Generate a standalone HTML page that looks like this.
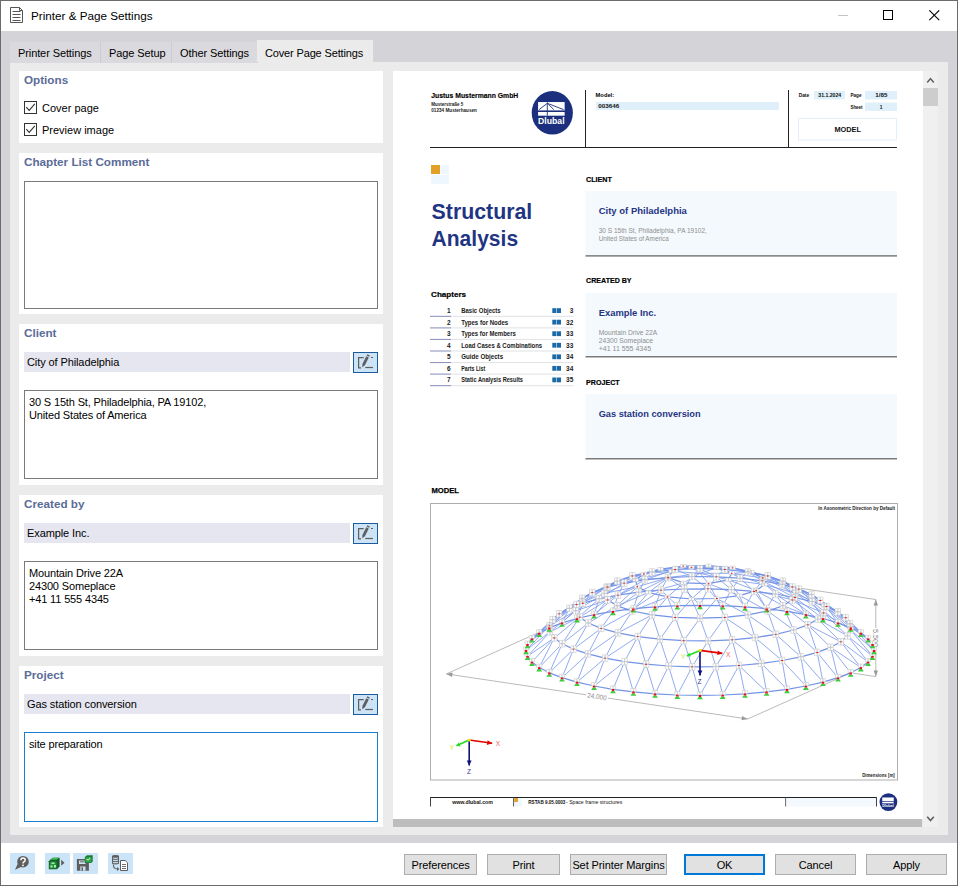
<!DOCTYPE html><html><head><meta charset="utf-8"><style>
*{box-sizing:border-box;margin:0;padding:0}
html,body{width:958px;height:886px;overflow:hidden;background:#fff}
body{position:relative;font-family:"Liberation Sans",sans-serif;font-size:11px;color:#000}
.a{position:absolute}
.t{position:absolute;white-space:nowrap;line-height:1}
#win{position:absolute;left:0;top:0;width:958px;height:886px;border:1px solid #6b6b6b;border-right-color:#6b6b6b}
#grey{left:1px;top:31px;width:956px;height:812px;background:#d3d3d8}
.tab{position:absolute;top:42px;height:21px;background:#dadade;border-right:1px solid #cbcbd0}
.tab span{position:absolute;top:6px;left:8px;font-size:11px;white-space:nowrap;line-height:1;letter-spacing:-0.1px}
#panel{left:10px;top:62px;width:938px;height:773px;background:#ebebeb}
.box{position:absolute;left:19px;width:364px;background:#fff}
.hd{position:absolute;left:5px;top:2.5px;font-weight:bold;font-size:11.7px;color:#5b6c98;white-space:nowrap;line-height:1}
.fld{position:absolute;left:5px;top:28px;width:326px;height:20px;background:#e6e6f0}
.fld span{position:absolute;left:3px;top:5px;font-size:11px;line-height:1;white-space:nowrap;letter-spacing:-0.1px}
.eb{position:absolute;left:334px;top:28px;width:25px;height:21px;border:1px solid #1c5c9e;background:#cde3f6}
.ta{position:absolute;left:5px;top:66px;width:354px;height:89px;border:1px solid #7a7a7a;background:#fff}
.ta div{position:absolute;left:4px;top:5px;font-size:11px;line-height:13px;white-space:nowrap;letter-spacing:-0.15px}
.cb{position:absolute;left:5px;width:13px;height:13px;border:1px solid #333;background:#fff}
.btn{position:absolute;top:854px;height:21px;background:#e1e1e1;border:1px solid #adadad;font-size:11px;text-align:center;line-height:19px;padding-top:1px;white-space:nowrap;letter-spacing:-0.1px}
.ib{position:absolute;top:853px;width:25px;height:21px;background:#cce4f7}
</style></head><body>
<div id="win"></div>
<svg class="a" style="left:9px;top:6px" width="16" height="18" viewBox="0 0 16 18">
<path d="M1.5 1.5 H10.5 L13.5 4.5 V16.5 H1.5 Z" fill="#fff" stroke="#555" stroke-width="1"/>
<path d="M10.5 1.5 V4.5 H13.5" fill="none" stroke="#555" stroke-width="1"/>
<path d="M3.5 5.5H11.5M3.5 8.5H11.5M3.5 11.5H11.5M3.5 14.5H11.5" stroke="#555" stroke-width="1"/></svg>
<div class="t" style="left:31px;top:10px;font-size:11.7px">Printer &amp; Page Settings</div>
<div class="a" style="left:838px;top:15px;width:10px;height:1px;background:#c4c4c4"></div>
<div class="a" style="left:883px;top:10px;width:10px;height:10px;border:1px solid #000"></div>
<svg class="a" style="left:929px;top:10px" width="11" height="11" viewBox="0 0 11 11"><path d="M0.3 0.3L10.2 10.2M10.2 0.3L0.3 10.2" stroke="#000" stroke-width="1.1"/></svg>
<div class="a" id="grey"></div>
<div class="a" id="panel"></div>
<div class="tab" style="left:10px;width:91px"><span>Printer Settings</span></div>
<div class="tab" style="left:101px;width:71px"><span>Page Setup</span></div>
<div class="tab" style="left:172px;width:86px"><span>Other Settings</span></div>
<div class="a" style="left:257px;top:40px;width:116px;height:22px;background:#ebebeb"><span class="t" style="left:8px;top:8px;letter-spacing:-0.15px">Cover Page Settings</span></div>
<div class="box" style="top:71px;height:72px"><div class="hd">Options</div>
<div class="cb" style="top:30px"><svg width="11" height="11" viewBox="0 0 11 11" style="position:absolute;left:0;top:0"><path d="M1.3 5.2L4.2 8.4L9.8 1.8" fill="none" stroke="#333" stroke-width="1.1"/></svg></div><div class="cb" style="top:52px"><svg width="11" height="11" viewBox="0 0 11 11" style="position:absolute;left:0;top:0"><path d="M1.3 5.2L4.2 8.4L9.8 1.8" fill="none" stroke="#333" stroke-width="1.1"/></svg></div>
<div class="t" style="left:23px;top:32px">Cover page</div>
<div class="t" style="left:23px;top:54px">Preview image</div></div>
<div class="box" style="top:153px;height:161px"><div class="hd">Chapter List Comment</div>
<div class="ta" style="top:28px;height:128px"></div></div>
<div class="box" style="top:324px;height:161px"><div class="hd">Client</div>
<div class="fld"><span>City of Philadelphia</span></div><div class="eb"><svg width="23" height="19" viewBox="0 0 23 19" style="position:absolute;left:0;top:0">
<path d="M9.7 4.6H4.6V14.8H7" fill="none" stroke="#5f5f5f" stroke-width="1.2"/>
<path d="M11.3 14.5H19" stroke="#5f5f5f" stroke-width="1.2"/>
<path d="M17 4.5H19" stroke="#5f5f5f" stroke-width="1.2"/>
<path d="M15.85 2.43 L13.35 1.17 L12.63 2.6 L15.13 3.86Z M14.77 4.57 L12.27 3.31 L8.4 10.99 L10.9 12.25Z M10.9 12.25 L8.4 10.99 L8.3 14.3Z" fill="#5f5f5f"/></svg></div>
<div class="ta" style=""><div>30 S 15th St, Philadelphia, PA 19102,<br>United States of America</div></div></div>
<div class="box" style="top:495px;height:161px"><div class="hd">Created by</div>
<div class="fld"><span>Example Inc.</span></div><div class="eb"><svg width="23" height="19" viewBox="0 0 23 19" style="position:absolute;left:0;top:0">
<path d="M9.7 4.6H4.6V14.8H7" fill="none" stroke="#5f5f5f" stroke-width="1.2"/>
<path d="M11.3 14.5H19" stroke="#5f5f5f" stroke-width="1.2"/>
<path d="M17 4.5H19" stroke="#5f5f5f" stroke-width="1.2"/>
<path d="M15.85 2.43 L13.35 1.17 L12.63 2.6 L15.13 3.86Z M14.77 4.57 L12.27 3.31 L8.4 10.99 L10.9 12.25Z M10.9 12.25 L8.4 10.99 L8.3 14.3Z" fill="#5f5f5f"/></svg></div>
<div class="ta" style=""><div>Mountain Drive 22A<br>24300 Someplace<br>+41 11 555 4345</div></div></div>
<div class="box" style="top:666px;height:161px"><div class="hd">Project</div>
<div class="fld"><span>Gas station conversion</span></div><div class="eb"><svg width="23" height="19" viewBox="0 0 23 19" style="position:absolute;left:0;top:0">
<path d="M9.7 4.6H4.6V14.8H7" fill="none" stroke="#5f5f5f" stroke-width="1.2"/>
<path d="M11.3 14.5H19" stroke="#5f5f5f" stroke-width="1.2"/>
<path d="M17 4.5H19" stroke="#5f5f5f" stroke-width="1.2"/>
<path d="M15.85 2.43 L13.35 1.17 L12.63 2.6 L15.13 3.86Z M14.77 4.57 L12.27 3.31 L8.4 10.99 L10.9 12.25Z M10.9 12.25 L8.4 10.99 L8.3 14.3Z" fill="#5f5f5f"/></svg></div>
<div class="ta" style="border-color:#1a7fd0;height:90px"><div>site preparation</div></div></div>
<div class="a" style="left:393px;top:71px;width:530px;height:748px;background:#fff;overflow:hidden"><svg class="a" style="left:0;top:0" width="530" height="748" viewBox="393 71 530 748" font-family="Liberation Sans"><text x="431.3" y="98" font-size="7.9" font-weight="bold" fill="#000" text-anchor="start" textLength="87" lengthAdjust="spacingAndGlyphs" stroke="#000" stroke-width="0.15">Justus Mustermann GmbH</text>
<text x="431.3" y="105.7" font-size="4.9" font-weight="bold" fill="#222" text-anchor="start" textLength="32" lengthAdjust="spacingAndGlyphs">Musterstraße 5</text>
<text x="431.3" y="111.6" font-size="4.9" font-weight="bold" fill="#222" text-anchor="start" textLength="45.6" lengthAdjust="spacingAndGlyphs">01234 Musterhausen</text>
<ellipse cx="552.3" cy="112.8" rx="20.6" ry="21.8" fill="#1c2f7e"/>
<rect x="538.07" y="102.05" width="26.57" height="8.36" fill="#fff"/>
<rect x="538.07" y="112.0" width="26.57" height="3.68" fill="#fff"/>
<path d="M539.1 109.6 L547.3 103.3 M547.3 102.4 V115.6 M547.3 103.3 L563.6 109.6 M548.3 104.2 L553.8 109.6" stroke="#1c2f7e" stroke-width="0.90" fill="none"/>
<text x="538.07" y="124.05" font-size="8.56" font-weight="bold" fill="#fff" text-anchor="start" textLength="26.57" lengthAdjust="spacingAndGlyphs">Dlubal</text>
<line x1="430" y1="147.5" x2="897" y2="147.5" stroke="#222" stroke-width="1"/>
<line x1="585.5" y1="90" x2="585.5" y2="147.5" stroke="#222" stroke-width="1"/>
<line x1="788.5" y1="90" x2="788.5" y2="147.5" stroke="#222" stroke-width="1"/>
<text x="595.6" y="97.2" font-size="5.5" font-weight="bold" fill="#000" text-anchor="start" textLength="18.5" lengthAdjust="spacingAndGlyphs">Model:</text>
<rect x="596" y="102" width="183" height="8" fill="#dff0fb"/>
<text x="598.3" y="108.3" font-size="5.6" font-weight="bold" fill="#111" text-anchor="start" textLength="21" lengthAdjust="spacingAndGlyphs">003646</text>
<text x="798.7" y="97" font-size="4.8" font-weight="bold" fill="#111" text-anchor="start" textLength="10.5" lengthAdjust="spacingAndGlyphs">Date</text>
<rect x="814" y="91" width="31" height="8.4" fill="#dff0fb"/>
<text x="829.7" y="97" font-size="4.8" font-weight="bold" fill="#111" text-anchor="middle" textLength="22.8" lengthAdjust="spacingAndGlyphs">31.1.2024</text>
<text x="850.4" y="97" font-size="4.8" font-weight="bold" fill="#111" text-anchor="start" textLength="11.1" lengthAdjust="spacingAndGlyphs">Page</text>
<rect x="865" y="91" width="32" height="8.4" fill="#dff0fb"/>
<text x="881.3" y="97" font-size="4.8" font-weight="bold" fill="#111" text-anchor="middle" textLength="12.1" lengthAdjust="spacingAndGlyphs">1/85</text>
<text x="862.6" y="109" font-size="4.8" font-weight="bold" fill="#111" text-anchor="end" textLength="12.2" lengthAdjust="spacingAndGlyphs">Sheet</text>
<rect x="865" y="102.6" width="32" height="8.4" fill="#dff0fb"/>
<text x="881.2" y="109" font-size="4.8" font-weight="bold" fill="#111" text-anchor="middle">1</text>
<rect x="798.5" y="118.5" width="98" height="21.5" fill="#fff" stroke="#e3f0fb" stroke-width="1"/>
<text x="847.7" y="131.9" font-size="7.3" font-weight="bold" fill="#111" text-anchor="middle" textLength="26.5" lengthAdjust="spacingAndGlyphs">MODEL</text>
<rect x="431" y="165" width="9" height="9" fill="#e2a126"/>
<rect x="440.5" y="165" width="8.5" height="9" fill="#eef7fd"/>
<rect x="431" y="175" width="18" height="9" fill="#eef7fd"/>
<text x="431.6" y="218.6" font-size="21.8" font-weight="bold" fill="#1f3583" text-anchor="start" textLength="100.6" lengthAdjust="spacingAndGlyphs">Structural</text>
<text x="431.6" y="245.8" font-size="21.8" font-weight="bold" fill="#1f3583" text-anchor="start" textLength="86.5" lengthAdjust="spacingAndGlyphs">Analysis</text>
<text x="431.1" y="296.7" font-size="7.6" font-weight="bold" fill="#000" text-anchor="start" textLength="35" lengthAdjust="spacingAndGlyphs" stroke="#000" stroke-width="0.2">Chapters</text>
<text x="450.6" y="313.0" font-size="6.5" font-weight="bold" fill="#1a1a1a" text-anchor="end">1</text>
<text x="461.2" y="313.0" font-size="6.5" font-weight="bold" fill="#1a1a1a" text-anchor="start" textLength="39.5" lengthAdjust="spacingAndGlyphs">Basic Objects</text>
<rect x="552.3" y="308.2" width="4.1" height="4.8" fill="#1b6aa7"/>
<rect x="556.9" y="308.2" width="4.1" height="4.8" fill="#1b6aa7"/>
<text x="573.3" y="313.0" font-size="6.5" font-weight="bold" fill="#1a1a1a" text-anchor="end">3</text>
<rect x="430" y="315.8" width="21" height="1.1" fill="#9196be"/>
<rect x="451" y="315.8" width="122.5" height="1.1" fill="#e3e4e6"/>
<text x="450.6" y="324.55" font-size="6.5" font-weight="bold" fill="#1a1a1a" text-anchor="end">2</text>
<text x="461.2" y="324.55" font-size="6.5" font-weight="bold" fill="#1a1a1a" text-anchor="start" textLength="47" lengthAdjust="spacingAndGlyphs">Types for Nodes</text>
<rect x="552.3" y="319.75" width="4.1" height="4.8" fill="#1b6aa7"/>
<rect x="556.9" y="319.75" width="4.1" height="4.8" fill="#1b6aa7"/>
<text x="573.3" y="324.55" font-size="6.5" font-weight="bold" fill="#1a1a1a" text-anchor="end">32</text>
<rect x="430" y="327.35" width="21" height="1.1" fill="#9196be"/>
<rect x="451" y="327.35" width="122.5" height="1.1" fill="#e3e4e6"/>
<text x="450.6" y="336.1" font-size="6.5" font-weight="bold" fill="#1a1a1a" text-anchor="end">3</text>
<text x="461.2" y="336.1" font-size="6.5" font-weight="bold" fill="#1a1a1a" text-anchor="start" textLength="54.7" lengthAdjust="spacingAndGlyphs">Types for Members</text>
<rect x="552.3" y="331.3" width="4.1" height="4.8" fill="#1b6aa7"/>
<rect x="556.9" y="331.3" width="4.1" height="4.8" fill="#1b6aa7"/>
<text x="573.3" y="336.1" font-size="6.5" font-weight="bold" fill="#1a1a1a" text-anchor="end">33</text>
<rect x="430" y="338.9" width="21" height="1.1" fill="#9196be"/>
<rect x="451" y="338.9" width="122.5" height="1.1" fill="#e3e4e6"/>
<text x="450.6" y="347.65" font-size="6.5" font-weight="bold" fill="#1a1a1a" text-anchor="end">4</text>
<text x="461.2" y="347.65" font-size="6.5" font-weight="bold" fill="#1a1a1a" text-anchor="start" textLength="81" lengthAdjust="spacingAndGlyphs">Load Cases &amp; Combinations</text>
<rect x="552.3" y="342.85" width="4.1" height="4.8" fill="#1b6aa7"/>
<rect x="556.9" y="342.85" width="4.1" height="4.8" fill="#1b6aa7"/>
<text x="573.3" y="347.65" font-size="6.5" font-weight="bold" fill="#1a1a1a" text-anchor="end">33</text>
<rect x="430" y="350.45" width="21" height="1.1" fill="#9196be"/>
<rect x="451" y="350.45" width="122.5" height="1.1" fill="#e3e4e6"/>
<text x="450.6" y="359.2" font-size="6.5" font-weight="bold" fill="#1a1a1a" text-anchor="end">5</text>
<text x="461.2" y="359.2" font-size="6.5" font-weight="bold" fill="#1a1a1a" text-anchor="start" textLength="41.9" lengthAdjust="spacingAndGlyphs">Guide Objects</text>
<rect x="552.3" y="354.4" width="4.1" height="4.8" fill="#1b6aa7"/>
<rect x="556.9" y="354.4" width="4.1" height="4.8" fill="#1b6aa7"/>
<text x="573.3" y="359.2" font-size="6.5" font-weight="bold" fill="#1a1a1a" text-anchor="end">34</text>
<rect x="430" y="362.0" width="21" height="1.1" fill="#9196be"/>
<rect x="451" y="362.0" width="122.5" height="1.1" fill="#e3e4e6"/>
<text x="450.6" y="370.75" font-size="6.5" font-weight="bold" fill="#1a1a1a" text-anchor="end">6</text>
<text x="461.2" y="370.75" font-size="6.5" font-weight="bold" fill="#1a1a1a" text-anchor="start" textLength="24.1" lengthAdjust="spacingAndGlyphs">Parts List</text>
<rect x="552.3" y="365.95" width="4.1" height="4.8" fill="#1b6aa7"/>
<rect x="556.9" y="365.95" width="4.1" height="4.8" fill="#1b6aa7"/>
<text x="573.3" y="370.75" font-size="6.5" font-weight="bold" fill="#1a1a1a" text-anchor="end">34</text>
<rect x="430" y="373.55" width="21" height="1.1" fill="#9196be"/>
<rect x="451" y="373.55" width="122.5" height="1.1" fill="#e3e4e6"/>
<text x="450.6" y="382.3" font-size="6.5" font-weight="bold" fill="#1a1a1a" text-anchor="end">7</text>
<text x="461.2" y="382.3" font-size="6.5" font-weight="bold" fill="#1a1a1a" text-anchor="start" textLength="61.8" lengthAdjust="spacingAndGlyphs">Static Analysis Results</text>
<rect x="552.3" y="377.5" width="4.1" height="4.8" fill="#1b6aa7"/>
<rect x="556.9" y="377.5" width="4.1" height="4.8" fill="#1b6aa7"/>
<text x="573.3" y="382.3" font-size="6.5" font-weight="bold" fill="#1a1a1a" text-anchor="end">35</text>
<rect x="430" y="385.1" width="21" height="1.1" fill="#9196be"/>
<rect x="451" y="385.1" width="122.5" height="1.1" fill="#e3e4e6"/>
<text x="586.1" y="182.3" font-size="7.8" font-weight="bold" fill="#000" text-anchor="start" textLength="25.8" lengthAdjust="spacingAndGlyphs" stroke="#000" stroke-width="0.2">CLIENT</text>
<rect x="585.5" y="191" width="311.5" height="64.30000000000001" fill="#f4f9fd"/>
<rect x="585.5" y="255.3" width="311.5" height="1.2" fill="#5a5a5a"/>
<text x="598.7" y="213.7" font-size="9.3" font-weight="bold" fill="#1f3583" text-anchor="start" textLength="88.2" lengthAdjust="spacingAndGlyphs">City of Philadelphia</text>
<text x="598.7" y="233" font-size="6.6" font-weight="normal" fill="#8e8e8e" text-anchor="start" textLength="108.2" lengthAdjust="spacingAndGlyphs">30 S 15th St, Philadelphia, PA 19102,</text>
<text x="598.7" y="240.6" font-size="6.6" font-weight="normal" fill="#8e8e8e" text-anchor="start" textLength="70" lengthAdjust="spacingAndGlyphs">United States of America</text>
<text x="586.1" y="283" font-size="7.8" font-weight="bold" fill="#000" text-anchor="start" textLength="45.5" lengthAdjust="spacingAndGlyphs" stroke="#000" stroke-width="0.2">CREATED BY</text>
<rect x="585.5" y="293" width="311.5" height="63.19999999999999" fill="#f4f9fd"/>
<rect x="585.5" y="356.2" width="311.5" height="1.2" fill="#5a5a5a"/>
<text x="598.7" y="315.9" font-size="9.3" font-weight="bold" fill="#1f3583" text-anchor="start" textLength="57.4" lengthAdjust="spacingAndGlyphs">Example Inc.</text>
<text x="598.7" y="334.9" font-size="6.6" font-weight="normal" fill="#8e8e8e" text-anchor="start" textLength="58.5" lengthAdjust="spacingAndGlyphs">Mountain Drive 22A</text>
<text x="598.7" y="342.9" font-size="6.6" font-weight="normal" fill="#8e8e8e" text-anchor="start" textLength="54.3" lengthAdjust="spacingAndGlyphs">24300 Someplace</text>
<text x="598.7" y="350.7" font-size="6.6" font-weight="normal" fill="#8e8e8e" text-anchor="start" textLength="52.4" lengthAdjust="spacingAndGlyphs">+41 11 555 4345</text>
<text x="586.1" y="384.9" font-size="7.8" font-weight="bold" fill="#000" text-anchor="start" textLength="33.5" lengthAdjust="spacingAndGlyphs" stroke="#000" stroke-width="0.2">PROJECT</text>
<rect x="585.5" y="394.2" width="311.5" height="64.0" fill="#f4f9fd"/>
<rect x="585.5" y="458.2" width="311.5" height="1.2" fill="#5a5a5a"/>
<text x="598.7" y="416.8" font-size="9.3" font-weight="bold" fill="#1f3583" text-anchor="start" textLength="101.9" lengthAdjust="spacingAndGlyphs">Gas station conversion</text>
<text x="431.4" y="493.2" font-size="8.1" font-weight="bold" fill="#000" text-anchor="start" textLength="27.5" lengthAdjust="spacingAndGlyphs" stroke="#000" stroke-width="0.25">MODEL</text>
<rect x="430.5" y="503.5" width="467" height="276.5" fill="#fff" stroke="#adadad" stroke-width="1"/>
<text x="895" y="509.7" font-size="4.6" font-weight="bold" fill="#222" text-anchor="end" textLength="76.7" lengthAdjust="spacingAndGlyphs">In Axonometric Direction by Default</text>
<text x="894.7" y="776.7" font-size="4.6" font-weight="bold" fill="#222" text-anchor="end" textLength="32.5" lengthAdjust="spacingAndGlyphs">Dimensions [m]</text>
<g><polyline points="446.4,673.9 538.4,632.7" fill="none" stroke="#a8a8a8" stroke-width="0.8"/>
<polyline points="747.7,719.0 850.7,672.8" fill="none" stroke="#a8a8a8" stroke-width="0.8"/>
<polyline points="446.4,673.9 747.7,719.0" fill="none" stroke="#a8a8a8" stroke-width="0.8"/>
<polyline points="853.2,673.2 875.8,676.6" fill="none" stroke="#a8a8a8" stroke-width="0.8"/>
<polyline points="787.9,586.4 875.8,599.5" fill="none" stroke="#a8a8a8" stroke-width="0.8"/>
<polyline points="875.8,676.6 875.8,599.5" fill="none" stroke="#a8a8a8" stroke-width="0.8"/>
<path d="M446.4 673.9L452.6 672.6L452.0 677.0Z" fill="#9a9a9a"/>
<path d="M747.7 719.0L741.5 720.3L742.1 715.9Z" fill="#9a9a9a"/>
<path d="M875.8 676.6L873.6 670.6L878.0 670.6Z" fill="#9a9a9a"/>
<path d="M875.8 599.5L878.0 605.5L873.6 605.5Z" fill="#9a9a9a"/>
<g transform="translate(597.1,696.4) rotate(8.5)"><rect x="-11" y="-3.5" width="22" height="7" fill="#fff"/><text x="0" y="2.6" font-size="7" fill="#8a8a8a" text-anchor="middle" textLength="19.5" lengthAdjust="spacingAndGlyphs">24.000</text></g>
<g transform="translate(875.8,638.1) rotate(90)"><rect x="-10" y="-3.5" width="20" height="7" fill="#fff"/><text x="0" y="2.6" font-size="7" fill="#8a8a8a" text-anchor="middle" textLength="18" lengthAdjust="spacingAndGlyphs">5.500</text></g>
<path d="M700.0 573.3L728.4 579.8M700.0 573.3L708.5 583.7M700.0 573.3L683.6 582.9M700.0 573.3L668.3 577.7M700.0 573.3L671.6 571.3M700.0 573.3L691.5 567.3M700.0 573.3L716.4 568.2M700.0 573.3L731.7 573.3M728.4 579.8L756.2 590.7M728.4 579.8L739.5 595.6M708.5 583.7L739.5 595.6M708.5 583.7L716.8 598.5M708.5 583.7L691.5 599.0M683.6 582.9L691.5 599.0M683.6 582.9L667.5 596.9M683.6 582.9L648.5 592.5M668.3 577.7L648.5 592.5M668.3 577.7L637.3 586.7M668.3 577.7L635.6 580.1M671.6 571.3L635.6 580.1M671.6 571.3L643.8 573.9M671.6 571.3L660.5 569.0M691.5 567.3L660.5 569.0M691.5 567.3L683.2 566.1M691.5 567.3L708.5 565.7M716.4 568.2L708.5 565.7M716.4 568.2L732.5 567.8M716.4 568.2L751.5 572.1M731.7 573.3L751.5 572.1M731.7 573.3L762.7 578.0M731.7 573.3L764.4 584.5M728.4 579.8L764.4 584.5M756.2 590.7L782.9 605.8M756.2 590.7L767.7 611.0M739.5 595.6L767.7 611.0M739.5 595.6L747.9 614.9M716.8 598.5L747.9 614.9M716.8 598.5L724.8 617.4M716.8 598.5L700.0 618.2M691.5 599.0L700.0 618.2M691.5 599.0L675.2 617.4M667.5 596.9L675.2 617.4M667.5 596.9L652.1 614.9M667.5 596.9L632.3 611.0M648.5 592.5L632.3 611.0M648.5 592.5L617.1 605.8M637.3 586.7L617.1 605.8M637.3 586.7L607.6 599.9M637.3 586.7L604.3 593.4M635.6 580.1L604.3 593.4M635.6 580.1L607.6 587.0M643.8 573.9L607.6 587.0M643.8 573.9L617.1 581.1M643.8 573.9L632.3 575.9M660.5 569.0L632.3 575.9M660.5 569.0L652.1 572.0M683.2 566.1L652.1 572.0M683.2 566.1L675.2 569.5M683.2 566.1L700.0 568.7M708.5 565.7L700.0 568.7M708.5 565.7L724.8 569.5M732.5 567.8L724.8 569.5M732.5 567.8L747.9 572.0M732.5 567.8L767.7 575.9M751.5 572.1L767.7 575.9M751.5 572.1L782.9 581.1M762.7 578.0L782.9 581.1M762.7 578.0L792.4 587.0M762.7 578.0L795.7 593.4M764.4 584.5L795.7 593.4M764.4 584.5L792.4 599.9M756.2 590.7L792.4 599.9M782.9 605.8L807.8 624.8M782.9 605.8L793.6 630.0M767.7 611.0L793.6 630.0M767.7 611.0L775.8 634.3M747.9 614.9L775.8 634.3M747.9 614.9L755.1 637.6M724.8 617.4L755.1 637.6M724.8 617.4L732.2 639.8M724.8 617.4L708.1 640.9M700.0 618.2L708.1 640.9M700.0 618.2L683.7 640.7M675.2 617.4L683.7 640.7M675.2 617.4L660.0 639.2M652.1 614.9L660.0 639.2M652.1 614.9L637.7 636.6M652.1 614.9L617.9 632.9M632.3 611.0L617.9 632.9M632.3 611.0L601.2 628.3M617.1 605.8L601.2 628.3M617.1 605.8L588.3 623.0M607.6 599.9L588.3 623.0M607.6 599.9L579.7 617.1M607.6 599.9L575.7 610.8M604.3 593.4L575.7 610.8M604.3 593.4L576.5 604.5M607.6 587.0L576.5 604.5M607.6 587.0L582.1 598.3M617.1 581.1L582.1 598.3M617.1 581.1L592.2 592.6M617.1 581.1L606.4 587.5M632.3 575.9L606.4 587.5M632.3 575.9L624.2 583.1M652.1 572.0L624.2 583.1M652.1 572.0L644.9 579.8M675.2 569.5L644.9 579.8M675.2 569.5L667.8 577.6M675.2 569.5L691.9 576.5M700.0 568.7L691.9 576.5M700.0 568.7L716.3 576.8M724.8 569.5L716.3 576.8M724.8 569.5L740.0 578.2M747.9 572.0L740.0 578.2M747.9 572.0L762.3 580.8M747.9 572.0L782.1 584.5M767.7 575.9L782.1 584.5M767.7 575.9L798.8 589.1M782.9 581.1L798.8 589.1M782.9 581.1L811.7 594.5M792.4 587.0L811.7 594.5M792.4 587.0L820.3 600.4M792.4 587.0L824.3 606.6M795.7 593.4L824.3 606.6M795.7 593.4L823.5 612.9M792.4 599.9L823.5 612.9M792.4 599.9L817.9 619.1M782.9 605.8L817.9 619.1M807.8 624.8L830.6 647.3M807.8 624.8L817.2 652.4M793.6 630.0L817.2 652.4M793.6 630.0L800.9 656.8M775.8 634.3L800.9 656.8M775.8 634.3L782.1 660.5M755.1 637.6L782.1 660.5M755.1 637.6L761.3 663.4M732.2 639.8L761.3 663.4M732.2 639.8L739.0 665.5M732.2 639.8L715.8 666.6M708.1 640.9L715.8 666.6M708.1 640.9L692.1 666.8M683.7 640.7L692.1 666.8M683.7 640.7L668.6 666.0M660.0 639.2L668.6 666.0M660.0 639.2L646.0 664.2M637.7 636.6L646.0 664.2M637.7 636.6L624.6 661.6M637.7 636.6L605.1 658.1M617.9 632.9L605.1 658.1M617.9 632.9L587.9 653.9M601.2 628.3L587.9 653.9M601.2 628.3L573.5 649.1M588.3 623.0L573.5 649.1M588.3 623.0L562.2 643.7M579.7 617.1L562.2 643.7M579.7 617.1L554.3 637.9M579.7 617.1L550.0 631.9M575.7 610.8L550.0 631.9M575.7 610.8L549.4 625.8M576.5 604.5L549.4 625.8M576.5 604.5L552.5 619.7M582.1 598.3L552.5 619.7M582.1 598.3L559.2 613.8M592.2 592.6L559.2 613.8M592.2 592.6L569.4 608.3M592.2 592.6L582.8 603.2M606.4 587.5L582.8 603.2M606.4 587.5L599.1 598.8M624.2 583.1L599.1 598.8M624.2 583.1L617.9 595.1M644.9 579.8L617.9 595.1M644.9 579.8L638.7 592.1M667.8 577.6L638.7 592.1M667.8 577.6L661.0 590.1M667.8 577.6L684.2 589.0M691.9 576.5L684.2 589.0M691.9 576.5L707.9 588.8M716.3 576.8L707.9 588.8M716.3 576.8L731.4 589.6M740.0 578.2L731.4 589.6M740.0 578.2L754.0 591.4M762.3 580.8L754.0 591.4M762.3 580.8L775.4 594.0M762.3 580.8L794.9 597.5M782.1 584.5L794.9 597.5M782.1 584.5L812.1 601.7M798.8 589.1L812.1 601.7M798.8 589.1L826.5 606.5M811.7 594.5L826.5 606.5M811.7 594.5L837.8 611.9M820.3 600.4L837.8 611.9M820.3 600.4L845.7 617.7M820.3 600.4L850.0 623.7M824.3 606.6L850.0 623.7M824.3 606.6L850.6 629.8M823.5 612.9L850.6 629.8M823.5 612.9L847.5 635.9M817.9 619.1L847.5 635.9M817.9 619.1L840.8 641.8M807.8 624.8L840.8 641.8M830.6 647.3L850.7 672.8M830.6 647.3L838.0 677.7M817.2 652.4L838.0 677.7M817.2 652.4L823.0 682.1M800.9 656.8L823.0 682.1M800.9 656.8L805.9 686.0M782.1 660.5L805.9 686.0M782.1 660.5L787.0 689.3M761.3 663.4L787.0 689.3M761.3 663.4L766.6 691.9M739.0 665.5L766.6 691.9M739.0 665.5L745.0 693.8M739.0 665.5L722.7 695.0M715.8 666.6L722.7 695.0M715.8 666.6L700.0 695.3M692.1 666.8L700.0 695.3M692.1 666.8L677.3 695.0M668.6 666.0L677.3 695.0M668.6 666.0L655.0 693.8M646.0 664.2L655.0 693.8M646.0 664.2L633.4 691.9M624.6 661.6L633.4 691.9M624.6 661.6L613.0 689.3M624.6 661.6L594.1 686.0M605.1 658.1L594.1 686.0M605.1 658.1L577.0 682.1M587.9 653.9L577.0 682.1M587.9 653.9L562.0 677.7M573.5 649.1L562.0 677.7M573.5 649.1L549.3 672.8M562.2 643.7L549.3 672.8M562.2 643.7L539.2 667.5M554.3 637.9L539.2 667.5M554.3 637.9L531.9 662.0M554.3 637.9L527.5 656.2M550.0 631.9L527.5 656.2M550.0 631.9L526.0 650.3M549.4 625.8L526.0 650.3M549.4 625.8L527.5 644.4M552.5 619.7L527.5 644.4M552.5 619.7L531.9 638.7M559.2 613.8L531.9 638.7M559.2 613.8L539.2 633.1M569.4 608.3L539.2 633.1M569.4 608.3L549.3 627.8M569.4 608.3L562.0 622.9M582.8 603.2L562.0 622.9M582.8 603.2L577.0 618.5M599.1 598.8L577.0 618.5M599.1 598.8L594.1 614.6M617.9 595.1L594.1 614.6M617.9 595.1L613.0 611.3M638.7 592.1L613.0 611.3M638.7 592.1L633.4 608.7M661.0 590.1L633.4 608.7M661.0 590.1L655.0 606.8M661.0 590.1L677.3 605.7M684.2 589.0L677.3 605.7M684.2 589.0L700.0 605.3M707.9 588.8L700.0 605.3M707.9 588.8L722.7 605.7M731.4 589.6L722.7 605.7M731.4 589.6L745.0 606.8M754.0 591.4L745.0 606.8M754.0 591.4L766.6 608.7M775.4 594.0L766.6 608.7M775.4 594.0L787.0 611.3M775.4 594.0L805.9 614.6M794.9 597.5L805.9 614.6M794.9 597.5L823.0 618.5M812.1 601.7L823.0 618.5M812.1 601.7L838.0 622.9M826.5 606.5L838.0 622.9M826.5 606.5L850.7 627.8M837.8 611.9L850.7 627.8M837.8 611.9L860.8 633.1M845.7 617.7L860.8 633.1M845.7 617.7L868.1 638.7M845.7 617.7L872.5 644.4M850.0 623.7L872.5 644.4M850.0 623.7L874.0 650.3M850.6 629.8L874.0 650.3M850.6 629.8L872.5 656.2M847.5 635.9L872.5 656.2M847.5 635.9L868.1 662.0M840.8 641.8L868.1 662.0M840.8 641.8L860.8 667.5M830.6 647.3L860.8 667.5" stroke="#7f9ced" stroke-width="0.9" fill="none" stroke-opacity="0.95"/>
<path d="M728.4 579.8L708.5 583.7M708.5 583.7L683.6 582.9M683.6 582.9L668.3 577.7M668.3 577.7L671.6 571.3M671.6 571.3L691.5 567.3M691.5 567.3L716.4 568.2M716.4 568.2L731.7 573.3M731.7 573.3L728.4 579.8M756.2 590.7L739.5 595.6M739.5 595.6L716.8 598.5M716.8 598.5L691.5 599.0M691.5 599.0L667.5 596.9M667.5 596.9L648.5 592.5M648.5 592.5L637.3 586.7M637.3 586.7L635.6 580.1M635.6 580.1L643.8 573.9M643.8 573.9L660.5 569.0M660.5 569.0L683.2 566.1M683.2 566.1L708.5 565.7M708.5 565.7L732.5 567.8M732.5 567.8L751.5 572.1M751.5 572.1L762.7 578.0M762.7 578.0L764.4 584.5M764.4 584.5L756.2 590.7M782.9 605.8L767.7 611.0M767.7 611.0L747.9 614.9M747.9 614.9L724.8 617.4M724.8 617.4L700.0 618.2M700.0 618.2L675.2 617.4M675.2 617.4L652.1 614.9M652.1 614.9L632.3 611.0M632.3 611.0L617.1 605.8M617.1 605.8L607.6 599.9M607.6 599.9L604.3 593.4M604.3 593.4L607.6 587.0M607.6 587.0L617.1 581.1M617.1 581.1L632.3 575.9M632.3 575.9L652.1 572.0M652.1 572.0L675.2 569.5M675.2 569.5L700.0 568.7M700.0 568.7L724.8 569.5M724.8 569.5L747.9 572.0M747.9 572.0L767.7 575.9M767.7 575.9L782.9 581.1M782.9 581.1L792.4 587.0M792.4 587.0L795.7 593.4M795.7 593.4L792.4 599.9M792.4 599.9L782.9 605.8M807.8 624.8L793.6 630.0M793.6 630.0L775.8 634.3M775.8 634.3L755.1 637.6M755.1 637.6L732.2 639.8M732.2 639.8L708.1 640.9M708.1 640.9L683.7 640.7M683.7 640.7L660.0 639.2M660.0 639.2L637.7 636.6M637.7 636.6L617.9 632.9M617.9 632.9L601.2 628.3M601.2 628.3L588.3 623.0M588.3 623.0L579.7 617.1M579.7 617.1L575.7 610.8M575.7 610.8L576.5 604.5M576.5 604.5L582.1 598.3M582.1 598.3L592.2 592.6M592.2 592.6L606.4 587.5M606.4 587.5L624.2 583.1M624.2 583.1L644.9 579.8M644.9 579.8L667.8 577.6M667.8 577.6L691.9 576.5M691.9 576.5L716.3 576.8M716.3 576.8L740.0 578.2M740.0 578.2L762.3 580.8M762.3 580.8L782.1 584.5M782.1 584.5L798.8 589.1M798.8 589.1L811.7 594.5M811.7 594.5L820.3 600.4M820.3 600.4L824.3 606.6M824.3 606.6L823.5 612.9M823.5 612.9L817.9 619.1M817.9 619.1L807.8 624.8M830.6 647.3L817.2 652.4M817.2 652.4L800.9 656.8M800.9 656.8L782.1 660.5M782.1 660.5L761.3 663.4M761.3 663.4L739.0 665.5M739.0 665.5L715.8 666.6M715.8 666.6L692.1 666.8M692.1 666.8L668.6 666.0M668.6 666.0L646.0 664.2M646.0 664.2L624.6 661.6M624.6 661.6L605.1 658.1M605.1 658.1L587.9 653.9M587.9 653.9L573.5 649.1M573.5 649.1L562.2 643.7M562.2 643.7L554.3 637.9M554.3 637.9L550.0 631.9M550.0 631.9L549.4 625.8M549.4 625.8L552.5 619.7M552.5 619.7L559.2 613.8M559.2 613.8L569.4 608.3M569.4 608.3L582.8 603.2M582.8 603.2L599.1 598.8M599.1 598.8L617.9 595.1M617.9 595.1L638.7 592.1M638.7 592.1L661.0 590.1M661.0 590.1L684.2 589.0M684.2 589.0L707.9 588.8M707.9 588.8L731.4 589.6M731.4 589.6L754.0 591.4M754.0 591.4L775.4 594.0M775.4 594.0L794.9 597.5M794.9 597.5L812.1 601.7M812.1 601.7L826.5 606.5M826.5 606.5L837.8 611.9M837.8 611.9L845.7 617.7M845.7 617.7L850.0 623.7M850.0 623.7L850.6 629.8M850.6 629.8L847.5 635.9M847.5 635.9L840.8 641.8M840.8 641.8L830.6 647.3M850.7 672.8L838.0 677.7M838.0 677.7L823.0 682.1M823.0 682.1L805.9 686.0M805.9 686.0L787.0 689.3M787.0 689.3L766.6 691.9M766.6 691.9L745.0 693.8M745.0 693.8L722.7 695.0M722.7 695.0L700.0 695.3M700.0 695.3L677.3 695.0M677.3 695.0L655.0 693.8M655.0 693.8L633.4 691.9M633.4 691.9L613.0 689.3M613.0 689.3L594.1 686.0M594.1 686.0L577.0 682.1M577.0 682.1L562.0 677.7M562.0 677.7L549.3 672.8M549.3 672.8L539.2 667.5M539.2 667.5L531.9 662.0M531.9 662.0L527.5 656.2M527.5 656.2L526.0 650.3M526.0 650.3L527.5 644.4M527.5 644.4L531.9 638.7M531.9 638.7L539.2 633.1M539.2 633.1L549.3 627.8M549.3 627.8L562.0 622.9M562.0 622.9L577.0 618.5M577.0 618.5L594.1 614.6M594.1 614.6L613.0 611.3M613.0 611.3L633.4 608.7M633.4 608.7L655.0 606.8M655.0 606.8L677.3 605.7M677.3 605.7L700.0 605.3M700.0 605.3L722.7 605.7M722.7 605.7L745.0 606.8M745.0 606.8L766.6 608.7M766.6 608.7L787.0 611.3M787.0 611.3L805.9 614.6M805.9 614.6L823.0 618.5M823.0 618.5L838.0 622.9M838.0 622.9L850.7 627.8M850.7 627.8L860.8 633.1M860.8 633.1L868.1 638.7M868.1 638.7L872.5 644.4M872.5 644.4L874.0 650.3M874.0 650.3L872.5 656.2M872.5 656.2L868.1 662.0M868.1 662.0L860.8 667.5M860.8 667.5L850.7 672.8" stroke="#7393e6" stroke-width="1.25" fill="none"/>
<path d="M725.7 578.2h2.6v3.1h-2.6z M728.5 578.2h2.6v3.1h-2.6z M705.8 582.1h2.6v3.1h-2.6z M708.6 582.1h2.6v3.1h-2.6z M680.9 581.3h2.6v3.1h-2.6z M683.7 581.3h2.6v3.1h-2.6z M665.6 576.1h2.6v3.1h-2.6z M668.4 576.1h2.6v3.1h-2.6z M668.9 569.7h2.6v3.1h-2.6z M671.7 569.7h2.6v3.1h-2.6z M688.8 565.7h2.6v3.1h-2.6z M691.6 565.7h2.6v3.1h-2.6z M713.7 566.6h2.6v3.1h-2.6z M716.5 566.6h2.6v3.1h-2.6z M729.0 571.7h2.6v3.1h-2.6z M731.8 571.7h2.6v3.1h-2.6z M753.5 589.1h2.6v3.1h-2.6z M756.3 589.1h2.6v3.1h-2.6z M736.8 594.0h2.6v3.1h-2.6z M739.6 594.0h2.6v3.1h-2.6z M714.1 596.9h2.6v3.1h-2.6z M716.9 596.9h2.6v3.1h-2.6z M688.8 597.4h2.6v3.1h-2.6z M691.6 597.4h2.6v3.1h-2.6z M664.8 595.3h2.6v3.1h-2.6z M667.6 595.3h2.6v3.1h-2.6z M645.8 590.9h2.6v3.1h-2.6z M648.6 590.9h2.6v3.1h-2.6z M634.6 585.1h2.6v3.1h-2.6z M637.4 585.1h2.6v3.1h-2.6z M632.9 578.5h2.6v3.1h-2.6z M635.7 578.5h2.6v3.1h-2.6z M641.1 572.3h2.6v3.1h-2.6z M643.9 572.3h2.6v3.1h-2.6z M657.8 567.4h2.6v3.1h-2.6z M660.6 567.4h2.6v3.1h-2.6z M680.5 564.5h2.6v3.1h-2.6z M683.3 564.5h2.6v3.1h-2.6z M705.8 564.1h2.6v3.1h-2.6z M708.6 564.1h2.6v3.1h-2.6z M729.8 566.2h2.6v3.1h-2.6z M732.6 566.2h2.6v3.1h-2.6z M748.8 570.5h2.6v3.1h-2.6z M751.6 570.5h2.6v3.1h-2.6z M760.0 576.4h2.6v3.1h-2.6z M762.8 576.4h2.6v3.1h-2.6z M761.7 582.9h2.6v3.1h-2.6z M764.5 582.9h2.6v3.1h-2.6z M780.2 602.5h2.6v3.1h-2.6z M783.0 602.5h2.6v3.1h-2.6z M780.2 606.0h2.6v3.1h-2.6z M783.0 606.0h2.6v3.1h-2.6z M765.0 607.7h2.6v3.1h-2.6z M767.8 607.7h2.6v3.1h-2.6z M765.0 611.2h2.6v3.1h-2.6z M767.8 611.2h2.6v3.1h-2.6z M745.2 611.6h2.6v3.1h-2.6z M748.0 611.6h2.6v3.1h-2.6z M745.2 615.1h2.6v3.1h-2.6z M748.0 615.1h2.6v3.1h-2.6z M722.1 614.1h2.6v3.1h-2.6z M724.9 614.1h2.6v3.1h-2.6z M722.1 617.6h2.6v3.1h-2.6z M724.9 617.6h2.6v3.1h-2.6z M697.3 614.9h2.6v3.1h-2.6z M700.1 614.9h2.6v3.1h-2.6z M697.3 618.4h2.6v3.1h-2.6z M700.1 618.4h2.6v3.1h-2.6z M672.5 614.1h2.6v3.1h-2.6z M675.3 614.1h2.6v3.1h-2.6z M672.5 617.6h2.6v3.1h-2.6z M675.3 617.6h2.6v3.1h-2.6z M649.4 611.6h2.6v3.1h-2.6z M652.2 611.6h2.6v3.1h-2.6z M649.4 615.1h2.6v3.1h-2.6z M652.2 615.1h2.6v3.1h-2.6z M629.6 607.7h2.6v3.1h-2.6z M632.4 607.7h2.6v3.1h-2.6z M629.6 611.2h2.6v3.1h-2.6z M632.4 611.2h2.6v3.1h-2.6z M614.4 602.5h2.6v3.1h-2.6z M617.2 602.5h2.6v3.1h-2.6z M614.4 606.0h2.6v3.1h-2.6z M617.2 606.0h2.6v3.1h-2.6z M604.9 596.6h2.6v3.1h-2.6z M607.7 596.6h2.6v3.1h-2.6z M604.9 600.1h2.6v3.1h-2.6z M607.7 600.1h2.6v3.1h-2.6z M601.6 590.1h2.6v3.1h-2.6z M604.4 590.1h2.6v3.1h-2.6z M601.6 593.6h2.6v3.1h-2.6z M604.4 593.6h2.6v3.1h-2.6z M604.9 583.7h2.6v3.1h-2.6z M607.7 583.7h2.6v3.1h-2.6z M604.9 587.2h2.6v3.1h-2.6z M607.7 587.2h2.6v3.1h-2.6z M614.4 577.8h2.6v3.1h-2.6z M617.2 577.8h2.6v3.1h-2.6z M614.4 581.3h2.6v3.1h-2.6z M617.2 581.3h2.6v3.1h-2.6z M629.6 572.6h2.6v3.1h-2.6z M632.4 572.6h2.6v3.1h-2.6z M629.6 576.1h2.6v3.1h-2.6z M632.4 576.1h2.6v3.1h-2.6z M649.4 568.7h2.6v3.1h-2.6z M652.2 568.7h2.6v3.1h-2.6z M649.4 572.2h2.6v3.1h-2.6z M652.2 572.2h2.6v3.1h-2.6z M672.5 566.2h2.6v3.1h-2.6z M675.3 566.2h2.6v3.1h-2.6z M672.5 569.7h2.6v3.1h-2.6z M675.3 569.7h2.6v3.1h-2.6z M697.3 565.4h2.6v3.1h-2.6z M700.1 565.4h2.6v3.1h-2.6z M697.3 568.9h2.6v3.1h-2.6z M700.1 568.9h2.6v3.1h-2.6z M722.1 566.2h2.6v3.1h-2.6z M724.9 566.2h2.6v3.1h-2.6z M722.1 569.7h2.6v3.1h-2.6z M724.9 569.7h2.6v3.1h-2.6z M745.2 568.7h2.6v3.1h-2.6z M748.0 568.7h2.6v3.1h-2.6z M745.2 572.2h2.6v3.1h-2.6z M748.0 572.2h2.6v3.1h-2.6z M765.0 572.6h2.6v3.1h-2.6z M767.8 572.6h2.6v3.1h-2.6z M765.0 576.1h2.6v3.1h-2.6z M767.8 576.1h2.6v3.1h-2.6z M780.2 577.8h2.6v3.1h-2.6z M783.0 577.8h2.6v3.1h-2.6z M780.2 581.3h2.6v3.1h-2.6z M783.0 581.3h2.6v3.1h-2.6z M789.7 583.7h2.6v3.1h-2.6z M792.5 583.7h2.6v3.1h-2.6z M789.7 587.2h2.6v3.1h-2.6z M792.5 587.2h2.6v3.1h-2.6z M793.0 590.1h2.6v3.1h-2.6z M795.8 590.1h2.6v3.1h-2.6z M793.0 593.6h2.6v3.1h-2.6z M795.8 593.6h2.6v3.1h-2.6z M789.7 596.6h2.6v3.1h-2.6z M792.5 596.6h2.6v3.1h-2.6z M789.7 600.1h2.6v3.1h-2.6z M792.5 600.1h2.6v3.1h-2.6z M805.1 621.5h2.6v3.1h-2.6z M807.9 621.5h2.6v3.1h-2.6z M805.1 625.0h2.6v3.1h-2.6z M807.9 625.0h2.6v3.1h-2.6z M790.9 626.7h2.6v3.1h-2.6z M793.7 626.7h2.6v3.1h-2.6z M790.9 630.2h2.6v3.1h-2.6z M793.7 630.2h2.6v3.1h-2.6z M773.1 631.0h2.6v3.1h-2.6z M775.9 631.0h2.6v3.1h-2.6z M773.1 634.5h2.6v3.1h-2.6z M775.9 634.5h2.6v3.1h-2.6z M752.4 634.3h2.6v3.1h-2.6z M755.2 634.3h2.6v3.1h-2.6z M752.4 637.8h2.6v3.1h-2.6z M755.2 637.8h2.6v3.1h-2.6z M729.5 636.5h2.6v3.1h-2.6z M732.3 636.5h2.6v3.1h-2.6z M729.5 640.0h2.6v3.1h-2.6z M732.3 640.0h2.6v3.1h-2.6z M705.4 637.6h2.6v3.1h-2.6z M708.2 637.6h2.6v3.1h-2.6z M705.4 641.1h2.6v3.1h-2.6z M708.2 641.1h2.6v3.1h-2.6z M681.0 637.4h2.6v3.1h-2.6z M683.8 637.4h2.6v3.1h-2.6z M681.0 640.9h2.6v3.1h-2.6z M683.8 640.9h2.6v3.1h-2.6z M657.3 635.9h2.6v3.1h-2.6z M660.1 635.9h2.6v3.1h-2.6z M657.3 639.4h2.6v3.1h-2.6z M660.1 639.4h2.6v3.1h-2.6z M635.0 633.3h2.6v3.1h-2.6z M637.8 633.3h2.6v3.1h-2.6z M635.0 636.8h2.6v3.1h-2.6z M637.8 636.8h2.6v3.1h-2.6z M615.2 629.6h2.6v3.1h-2.6z M618.0 629.6h2.6v3.1h-2.6z M615.2 633.1h2.6v3.1h-2.6z M618.0 633.1h2.6v3.1h-2.6z M598.5 625.0h2.6v3.1h-2.6z M601.3 625.0h2.6v3.1h-2.6z M598.5 628.5h2.6v3.1h-2.6z M601.3 628.5h2.6v3.1h-2.6z M585.6 619.7h2.6v3.1h-2.6z M588.4 619.7h2.6v3.1h-2.6z M585.6 623.2h2.6v3.1h-2.6z M588.4 623.2h2.6v3.1h-2.6z M577.0 613.8h2.6v3.1h-2.6z M579.8 613.8h2.6v3.1h-2.6z M577.0 617.3h2.6v3.1h-2.6z M579.8 617.3h2.6v3.1h-2.6z M573.0 607.5h2.6v3.1h-2.6z M575.8 607.5h2.6v3.1h-2.6z M573.0 611.0h2.6v3.1h-2.6z M575.8 611.0h2.6v3.1h-2.6z M573.8 601.2h2.6v3.1h-2.6z M576.6 601.2h2.6v3.1h-2.6z M573.8 604.7h2.6v3.1h-2.6z M576.6 604.7h2.6v3.1h-2.6z M579.4 595.0h2.6v3.1h-2.6z M582.2 595.0h2.6v3.1h-2.6z M579.4 598.5h2.6v3.1h-2.6z M582.2 598.5h2.6v3.1h-2.6z M589.5 589.3h2.6v3.1h-2.6z M592.3 589.3h2.6v3.1h-2.6z M589.5 592.8h2.6v3.1h-2.6z M592.3 592.8h2.6v3.1h-2.6z M603.7 584.2h2.6v3.1h-2.6z M606.5 584.2h2.6v3.1h-2.6z M603.7 587.7h2.6v3.1h-2.6z M606.5 587.7h2.6v3.1h-2.6z M621.5 579.8h2.6v3.1h-2.6z M624.3 579.8h2.6v3.1h-2.6z M621.5 583.3h2.6v3.1h-2.6z M624.3 583.3h2.6v3.1h-2.6z M642.2 576.5h2.6v3.1h-2.6z M645.0 576.5h2.6v3.1h-2.6z M642.2 580.0h2.6v3.1h-2.6z M645.0 580.0h2.6v3.1h-2.6z M665.1 574.3h2.6v3.1h-2.6z M667.9 574.3h2.6v3.1h-2.6z M665.1 577.8h2.6v3.1h-2.6z M667.9 577.8h2.6v3.1h-2.6z M689.2 573.2h2.6v3.1h-2.6z M692.0 573.2h2.6v3.1h-2.6z M689.2 576.7h2.6v3.1h-2.6z M692.0 576.7h2.6v3.1h-2.6z M713.6 573.5h2.6v3.1h-2.6z M716.4 573.5h2.6v3.1h-2.6z M713.6 577.0h2.6v3.1h-2.6z M716.4 577.0h2.6v3.1h-2.6z M737.3 574.9h2.6v3.1h-2.6z M740.1 574.9h2.6v3.1h-2.6z M737.3 578.4h2.6v3.1h-2.6z M740.1 578.4h2.6v3.1h-2.6z M759.6 577.5h2.6v3.1h-2.6z M762.4 577.5h2.6v3.1h-2.6z M759.6 581.0h2.6v3.1h-2.6z M762.4 581.0h2.6v3.1h-2.6z M779.4 581.2h2.6v3.1h-2.6z M782.2 581.2h2.6v3.1h-2.6z M779.4 584.7h2.6v3.1h-2.6z M782.2 584.7h2.6v3.1h-2.6z M796.1 585.8h2.6v3.1h-2.6z M798.9 585.8h2.6v3.1h-2.6z M796.1 589.3h2.6v3.1h-2.6z M798.9 589.3h2.6v3.1h-2.6z M809.0 591.2h2.6v3.1h-2.6z M811.8 591.2h2.6v3.1h-2.6z M809.0 594.7h2.6v3.1h-2.6z M811.8 594.7h2.6v3.1h-2.6z M817.6 597.1h2.6v3.1h-2.6z M820.4 597.1h2.6v3.1h-2.6z M817.6 600.6h2.6v3.1h-2.6z M820.4 600.6h2.6v3.1h-2.6z M821.6 603.3h2.6v3.1h-2.6z M824.4 603.3h2.6v3.1h-2.6z M821.6 606.8h2.6v3.1h-2.6z M824.4 606.8h2.6v3.1h-2.6z M820.8 609.6h2.6v3.1h-2.6z M823.6 609.6h2.6v3.1h-2.6z M820.8 613.1h2.6v3.1h-2.6z M823.6 613.1h2.6v3.1h-2.6z M815.2 615.8h2.6v3.1h-2.6z M818.0 615.8h2.6v3.1h-2.6z M815.2 619.3h2.6v3.1h-2.6z M818.0 619.3h2.6v3.1h-2.6z M827.9 644.0h2.6v3.1h-2.6z M830.7 644.0h2.6v3.1h-2.6z M827.9 647.5h2.6v3.1h-2.6z M830.7 647.5h2.6v3.1h-2.6z M814.5 649.1h2.6v3.1h-2.6z M817.3 649.1h2.6v3.1h-2.6z M814.5 652.6h2.6v3.1h-2.6z M817.3 652.6h2.6v3.1h-2.6z M798.2 653.5h2.6v3.1h-2.6z M801.0 653.5h2.6v3.1h-2.6z M798.2 657.0h2.6v3.1h-2.6z M801.0 657.0h2.6v3.1h-2.6z M779.4 657.2h2.6v3.1h-2.6z M782.2 657.2h2.6v3.1h-2.6z M779.4 660.7h2.6v3.1h-2.6z M782.2 660.7h2.6v3.1h-2.6z M758.6 660.1h2.6v3.1h-2.6z M761.4 660.1h2.6v3.1h-2.6z M758.6 663.6h2.6v3.1h-2.6z M761.4 663.6h2.6v3.1h-2.6z M736.3 662.2h2.6v3.1h-2.6z M739.1 662.2h2.6v3.1h-2.6z M736.3 665.7h2.6v3.1h-2.6z M739.1 665.7h2.6v3.1h-2.6z M713.1 663.3h2.6v3.1h-2.6z M715.9 663.3h2.6v3.1h-2.6z M713.1 666.8h2.6v3.1h-2.6z M715.9 666.8h2.6v3.1h-2.6z M689.4 663.5h2.6v3.1h-2.6z M692.2 663.5h2.6v3.1h-2.6z M689.4 667.0h2.6v3.1h-2.6z M692.2 667.0h2.6v3.1h-2.6z M665.9 662.7h2.6v3.1h-2.6z M668.7 662.7h2.6v3.1h-2.6z M665.9 666.2h2.6v3.1h-2.6z M668.7 666.2h2.6v3.1h-2.6z M643.3 660.9h2.6v3.1h-2.6z M646.1 660.9h2.6v3.1h-2.6z M643.3 664.4h2.6v3.1h-2.6z M646.1 664.4h2.6v3.1h-2.6z M621.9 658.3h2.6v3.1h-2.6z M624.7 658.3h2.6v3.1h-2.6z M621.9 661.8h2.6v3.1h-2.6z M624.7 661.8h2.6v3.1h-2.6z M602.4 654.8h2.6v3.1h-2.6z M605.2 654.8h2.6v3.1h-2.6z M602.4 658.3h2.6v3.1h-2.6z M605.2 658.3h2.6v3.1h-2.6z M585.2 650.6h2.6v3.1h-2.6z M588.0 650.6h2.6v3.1h-2.6z M585.2 654.1h2.6v3.1h-2.6z M588.0 654.1h2.6v3.1h-2.6z M570.8 645.8h2.6v3.1h-2.6z M573.6 645.8h2.6v3.1h-2.6z M570.8 649.3h2.6v3.1h-2.6z M573.6 649.3h2.6v3.1h-2.6z M559.5 640.4h2.6v3.1h-2.6z M562.3 640.4h2.6v3.1h-2.6z M559.5 643.9h2.6v3.1h-2.6z M562.3 643.9h2.6v3.1h-2.6z M551.6 634.6h2.6v3.1h-2.6z M554.4 634.6h2.6v3.1h-2.6z M551.6 638.1h2.6v3.1h-2.6z M554.4 638.1h2.6v3.1h-2.6z M547.3 628.6h2.6v3.1h-2.6z M550.1 628.6h2.6v3.1h-2.6z M547.3 632.1h2.6v3.1h-2.6z M550.1 632.1h2.6v3.1h-2.6z M546.7 622.5h2.6v3.1h-2.6z M549.5 622.5h2.6v3.1h-2.6z M546.7 626.0h2.6v3.1h-2.6z M549.5 626.0h2.6v3.1h-2.6z M549.8 616.4h2.6v3.1h-2.6z M552.6 616.4h2.6v3.1h-2.6z M549.8 619.9h2.6v3.1h-2.6z M552.6 619.9h2.6v3.1h-2.6z M556.5 610.5h2.6v3.1h-2.6z M559.3 610.5h2.6v3.1h-2.6z M556.5 614.0h2.6v3.1h-2.6z M559.3 614.0h2.6v3.1h-2.6z M566.7 605.0h2.6v3.1h-2.6z M569.5 605.0h2.6v3.1h-2.6z M566.7 608.5h2.6v3.1h-2.6z M569.5 608.5h2.6v3.1h-2.6z M580.1 599.9h2.6v3.1h-2.6z M582.9 599.9h2.6v3.1h-2.6z M580.1 603.4h2.6v3.1h-2.6z M582.9 603.4h2.6v3.1h-2.6z M596.4 595.5h2.6v3.1h-2.6z M599.2 595.5h2.6v3.1h-2.6z M596.4 599.0h2.6v3.1h-2.6z M599.2 599.0h2.6v3.1h-2.6z M615.2 591.8h2.6v3.1h-2.6z M618.0 591.8h2.6v3.1h-2.6z M615.2 595.3h2.6v3.1h-2.6z M618.0 595.3h2.6v3.1h-2.6z M636.0 588.8h2.6v3.1h-2.6z M638.8 588.8h2.6v3.1h-2.6z M636.0 592.3h2.6v3.1h-2.6z M638.8 592.3h2.6v3.1h-2.6z M658.3 586.8h2.6v3.1h-2.6z M661.1 586.8h2.6v3.1h-2.6z M658.3 590.3h2.6v3.1h-2.6z M661.1 590.3h2.6v3.1h-2.6z M681.5 585.7h2.6v3.1h-2.6z M684.3 585.7h2.6v3.1h-2.6z M681.5 589.2h2.6v3.1h-2.6z M684.3 589.2h2.6v3.1h-2.6z M705.2 585.5h2.6v3.1h-2.6z M708.0 585.5h2.6v3.1h-2.6z M705.2 589.0h2.6v3.1h-2.6z M708.0 589.0h2.6v3.1h-2.6z M728.7 586.3h2.6v3.1h-2.6z M731.5 586.3h2.6v3.1h-2.6z M728.7 589.8h2.6v3.1h-2.6z M731.5 589.8h2.6v3.1h-2.6z M751.3 588.1h2.6v3.1h-2.6z M754.1 588.1h2.6v3.1h-2.6z M751.3 591.6h2.6v3.1h-2.6z M754.1 591.6h2.6v3.1h-2.6z M772.7 590.7h2.6v3.1h-2.6z M775.5 590.7h2.6v3.1h-2.6z M772.7 594.2h2.6v3.1h-2.6z M775.5 594.2h2.6v3.1h-2.6z M792.2 594.2h2.6v3.1h-2.6z M795.0 594.2h2.6v3.1h-2.6z M792.2 597.7h2.6v3.1h-2.6z M795.0 597.7h2.6v3.1h-2.6z M809.4 598.4h2.6v3.1h-2.6z M812.2 598.4h2.6v3.1h-2.6z M809.4 601.9h2.6v3.1h-2.6z M812.2 601.9h2.6v3.1h-2.6z M823.8 603.2h2.6v3.1h-2.6z M826.6 603.2h2.6v3.1h-2.6z M823.8 606.7h2.6v3.1h-2.6z M826.6 606.7h2.6v3.1h-2.6z M835.1 608.6h2.6v3.1h-2.6z M837.9 608.6h2.6v3.1h-2.6z M835.1 612.1h2.6v3.1h-2.6z M837.9 612.1h2.6v3.1h-2.6z M843.0 614.4h2.6v3.1h-2.6z M845.8 614.4h2.6v3.1h-2.6z M843.0 617.9h2.6v3.1h-2.6z M845.8 617.9h2.6v3.1h-2.6z M847.3 620.4h2.6v3.1h-2.6z M850.1 620.4h2.6v3.1h-2.6z M847.3 623.9h2.6v3.1h-2.6z M850.1 623.9h2.6v3.1h-2.6z M847.9 626.5h2.6v3.1h-2.6z M850.7 626.5h2.6v3.1h-2.6z M847.9 630.0h2.6v3.1h-2.6z M850.7 630.0h2.6v3.1h-2.6z M844.8 632.6h2.6v3.1h-2.6z M847.6 632.6h2.6v3.1h-2.6z M844.8 636.1h2.6v3.1h-2.6z M847.6 636.1h2.6v3.1h-2.6z M838.1 638.5h2.6v3.1h-2.6z M840.9 638.5h2.6v3.1h-2.6z M838.1 642.0h2.6v3.1h-2.6z M840.9 642.0h2.6v3.1h-2.6z M848.1 669.4h2.5v3.2h-2.5z M850.8 669.4h2.5v3.2h-2.5z M835.4 674.3h2.5v3.2h-2.5z M838.1 674.3h2.5v3.2h-2.5z M820.4 678.7h2.5v3.2h-2.5z M823.1 678.7h2.5v3.2h-2.5z M803.3 682.6h2.5v3.2h-2.5z M806.0 682.6h2.5v3.2h-2.5z M784.4 685.9h2.5v3.2h-2.5z M787.1 685.9h2.5v3.2h-2.5z M764.0 688.5h2.5v3.2h-2.5z M766.7 688.5h2.5v3.2h-2.5z M742.4 690.4h2.5v3.2h-2.5z M745.1 690.4h2.5v3.2h-2.5z M720.1 691.6h2.5v3.2h-2.5z M722.8 691.6h2.5v3.2h-2.5z M697.4 691.9h2.5v3.2h-2.5z M700.1 691.9h2.5v3.2h-2.5z M674.7 691.6h2.5v3.2h-2.5z M677.4 691.6h2.5v3.2h-2.5z M652.4 690.4h2.5v3.2h-2.5z M655.1 690.4h2.5v3.2h-2.5z M630.8 688.5h2.5v3.2h-2.5z M633.5 688.5h2.5v3.2h-2.5z M610.4 685.9h2.5v3.2h-2.5z M613.1 685.9h2.5v3.2h-2.5z M591.5 682.6h2.5v3.2h-2.5z M594.2 682.6h2.5v3.2h-2.5z M574.4 678.7h2.5v3.2h-2.5z M577.1 678.7h2.5v3.2h-2.5z M559.4 674.3h2.5v3.2h-2.5z M562.1 674.3h2.5v3.2h-2.5z M546.7 669.4h2.5v3.2h-2.5z M549.4 669.4h2.5v3.2h-2.5z M536.6 664.1h2.5v3.2h-2.5z M539.3 664.1h2.5v3.2h-2.5z M529.3 658.6h2.5v3.2h-2.5z M532.0 658.6h2.5v3.2h-2.5z M524.9 652.8h2.5v3.2h-2.5z M527.6 652.8h2.5v3.2h-2.5z M523.4 646.9h2.5v3.2h-2.5z M526.1 646.9h2.5v3.2h-2.5z M524.9 641.0h2.5v3.2h-2.5z M527.6 641.0h2.5v3.2h-2.5z M529.3 635.3h2.5v3.2h-2.5z M532.0 635.3h2.5v3.2h-2.5z M536.6 629.7h2.5v3.2h-2.5z M539.3 629.7h2.5v3.2h-2.5z M546.7 624.4h2.5v3.2h-2.5z M549.4 624.4h2.5v3.2h-2.5z M559.4 619.5h2.5v3.2h-2.5z M562.1 619.5h2.5v3.2h-2.5z M574.4 615.1h2.5v3.2h-2.5z M577.1 615.1h2.5v3.2h-2.5z M591.5 611.2h2.5v3.2h-2.5z M594.2 611.2h2.5v3.2h-2.5z M610.4 607.9h2.5v3.2h-2.5z M613.1 607.9h2.5v3.2h-2.5z M630.8 605.3h2.5v3.2h-2.5z M633.5 605.3h2.5v3.2h-2.5z M652.4 603.4h2.5v3.2h-2.5z M655.1 603.4h2.5v3.2h-2.5z M674.7 602.3h2.5v3.2h-2.5z M677.4 602.3h2.5v3.2h-2.5z M697.4 601.9h2.5v3.2h-2.5z M700.1 601.9h2.5v3.2h-2.5z M720.1 602.3h2.5v3.2h-2.5z M722.8 602.3h2.5v3.2h-2.5z M742.4 603.4h2.5v3.2h-2.5z M745.1 603.4h2.5v3.2h-2.5z M764.0 605.3h2.5v3.2h-2.5z M766.7 605.3h2.5v3.2h-2.5z M784.4 607.9h2.5v3.2h-2.5z M787.1 607.9h2.5v3.2h-2.5z M803.3 611.2h2.5v3.2h-2.5z M806.0 611.2h2.5v3.2h-2.5z M820.4 615.1h2.5v3.2h-2.5z M823.1 615.1h2.5v3.2h-2.5z M835.4 619.5h2.5v3.2h-2.5z M838.1 619.5h2.5v3.2h-2.5z M848.1 624.4h2.5v3.2h-2.5z M850.8 624.4h2.5v3.2h-2.5z M858.2 629.7h2.5v3.2h-2.5z M860.9 629.7h2.5v3.2h-2.5z M865.5 635.3h2.5v3.2h-2.5z M868.2 635.3h2.5v3.2h-2.5z M869.9 641.0h2.5v3.2h-2.5z M872.6 641.0h2.5v3.2h-2.5z M871.4 646.9h2.5v3.2h-2.5z M874.1 646.9h2.5v3.2h-2.5z M869.9 652.8h2.5v3.2h-2.5z M872.6 652.8h2.5v3.2h-2.5z M865.5 658.6h2.5v3.2h-2.5z M868.2 658.6h2.5v3.2h-2.5z M858.2 664.1h2.5v3.2h-2.5z M860.9 664.1h2.5v3.2h-2.5z" fill="#fff" stroke="#c8c8c8" stroke-width="0.6"/>
<path d="M849.3 674.4h2.8l1.5 2.3h-5.8z M836.6 679.3h2.8l1.5 2.3h-5.8z M821.6 683.7h2.8l1.5 2.3h-5.8z M804.5 687.6h2.8l1.5 2.3h-5.8z M785.6 690.9h2.8l1.5 2.3h-5.8z M765.2 693.5h2.8l1.5 2.3h-5.8z M743.6 695.4h2.8l1.5 2.3h-5.8z M721.3 696.6h2.8l1.5 2.3h-5.8z M698.6 696.9h2.8l1.5 2.3h-5.8z M675.9 696.6h2.8l1.5 2.3h-5.8z M653.6 695.4h2.8l1.5 2.3h-5.8z M632.0 693.5h2.8l1.5 2.3h-5.8z M611.6 690.9h2.8l1.5 2.3h-5.8z M592.7 687.6h2.8l1.5 2.3h-5.8z M575.6 683.7h2.8l1.5 2.3h-5.8z M560.6 679.3h2.8l1.5 2.3h-5.8z M547.9 674.4h2.8l1.5 2.3h-5.8z M537.8 669.1h2.8l1.5 2.3h-5.8z M530.5 663.6h2.8l1.5 2.3h-5.8z M526.1 657.8h2.8l1.5 2.3h-5.8z M524.6 651.9h2.8l1.5 2.3h-5.8z M526.1 646.0h2.8l1.5 2.3h-5.8z M530.5 640.3h2.8l1.5 2.3h-5.8z M537.8 634.7h2.8l1.5 2.3h-5.8z M547.9 629.4h2.8l1.5 2.3h-5.8z M560.6 624.5h2.8l1.5 2.3h-5.8z M575.6 620.1h2.8l1.5 2.3h-5.8z M592.7 616.2h2.8l1.5 2.3h-5.8z M611.6 612.9h2.8l1.5 2.3h-5.8z M632.0 610.3h2.8l1.5 2.3h-5.8z M653.6 608.4h2.8l1.5 2.3h-5.8z M675.9 607.3h2.8l1.5 2.3h-5.8z M698.6 606.9h2.8l1.5 2.3h-5.8z M721.3 607.3h2.8l1.5 2.3h-5.8z M743.6 608.4h2.8l1.5 2.3h-5.8z M765.2 610.3h2.8l1.5 2.3h-5.8z M785.6 612.9h2.8l1.5 2.3h-5.8z M804.5 616.2h2.8l1.5 2.3h-5.8z M821.6 620.1h2.8l1.5 2.3h-5.8z M836.6 624.5h2.8l1.5 2.3h-5.8z M849.3 629.4h2.8l1.5 2.3h-5.8z M859.4 634.7h2.8l1.5 2.3h-5.8z M866.7 640.3h2.8l1.5 2.3h-5.8z M871.1 646.0h2.8l1.5 2.3h-5.8z M872.6 651.9h2.8l1.5 2.3h-5.8z M871.1 657.8h2.8l1.5 2.3h-5.8z M866.7 663.6h2.8l1.5 2.3h-5.8z M859.4 669.1h2.8l1.5 2.3h-5.8z" fill="#3ecb3e"/>
<path d="M707.6 583.3h1.8v0.9h-1.8z M667.4 577.3h1.8v0.9h-1.8z M690.6 566.9h1.8v0.9h-1.8z M730.8 572.9h1.8v0.9h-1.8z M755.3 590.3h1.8v0.9h-1.8z M715.9 598.1h1.8v0.9h-1.8z M666.6 596.5h1.8v0.9h-1.8z M636.4 586.3h1.8v0.9h-1.8z M642.9 573.5h1.8v0.9h-1.8z M682.3 565.7h1.8v0.9h-1.8z M731.6 567.4h1.8v0.9h-1.8z M761.8 577.6h1.8v0.9h-1.8z M766.8 610.6h1.8v0.9h-1.8z M723.9 617.0h1.8v0.9h-1.8z M674.3 617.0h1.8v0.9h-1.8z M631.4 610.6h1.8v0.9h-1.8z M606.7 599.5h1.8v0.9h-1.8z M606.7 586.6h1.8v0.9h-1.8z M631.4 575.5h1.8v0.9h-1.8z M674.3 569.1h1.8v0.9h-1.8z M723.9 569.1h1.8v0.9h-1.8z M766.8 575.5h1.8v0.9h-1.8z M791.5 586.6h1.8v0.9h-1.8z M791.5 599.5h1.8v0.9h-1.8z M806.9 624.4h1.8v0.9h-1.8z M774.9 633.9h1.8v0.9h-1.8z M731.3 639.4h1.8v0.9h-1.8z M682.8 640.3h1.8v0.9h-1.8z M636.8 636.2h1.8v0.9h-1.8z M600.3 627.9h1.8v0.9h-1.8z M578.8 616.7h1.8v0.9h-1.8z M575.6 604.1h1.8v0.9h-1.8z M591.3 592.2h1.8v0.9h-1.8z M623.3 582.7h1.8v0.9h-1.8z M666.9 577.2h1.8v0.9h-1.8z M715.4 576.4h1.8v0.9h-1.8z M761.4 580.4h1.8v0.9h-1.8z M797.9 588.7h1.8v0.9h-1.8z M819.4 600.0h1.8v0.9h-1.8z M822.6 612.5h1.8v0.9h-1.8z M816.3 652.0h1.8v0.9h-1.8z M781.2 660.1h1.8v0.9h-1.8z M738.1 665.1h1.8v0.9h-1.8z M691.2 666.4h1.8v0.9h-1.8z M645.1 663.8h1.8v0.9h-1.8z M604.2 657.7h1.8v0.9h-1.8z M572.6 648.7h1.8v0.9h-1.8z M553.4 637.5h1.8v0.9h-1.8z M548.5 625.4h1.8v0.9h-1.8z M558.3 613.4h1.8v0.9h-1.8z M581.9 602.8h1.8v0.9h-1.8z M617.0 594.7h1.8v0.9h-1.8z M660.1 589.7h1.8v0.9h-1.8z M707.0 588.4h1.8v0.9h-1.8z M753.1 591.0h1.8v0.9h-1.8z M794.0 597.1h1.8v0.9h-1.8z M825.6 606.1h1.8v0.9h-1.8z M844.8 617.3h1.8v0.9h-1.8z M849.7 629.4h1.8v0.9h-1.8z M839.9 641.4h1.8v0.9h-1.8z M849.5 672.5h2.4v1.9h-2.4z M836.8 677.4h2.4v1.9h-2.4z M821.8 681.8h2.4v1.9h-2.4z M804.7 685.7h2.4v1.9h-2.4z M785.8 689.0h2.4v1.9h-2.4z M765.4 691.6h2.4v1.9h-2.4z M743.8 693.5h2.4v1.9h-2.4z M721.5 694.7h2.4v1.9h-2.4z M698.8 695.0h2.4v1.9h-2.4z M676.1 694.7h2.4v1.9h-2.4z M653.8 693.5h2.4v1.9h-2.4z M632.2 691.6h2.4v1.9h-2.4z M611.8 689.0h2.4v1.9h-2.4z M592.9 685.7h2.4v1.9h-2.4z M575.8 681.8h2.4v1.9h-2.4z M560.8 677.4h2.4v1.9h-2.4z M548.1 672.5h2.4v1.9h-2.4z M538.0 667.2h2.4v1.9h-2.4z M530.7 661.7h2.4v1.9h-2.4z M526.3 655.9h2.4v1.9h-2.4z M524.8 650.0h2.4v1.9h-2.4z M526.3 644.1h2.4v1.9h-2.4z M530.7 638.4h2.4v1.9h-2.4z M538.0 632.8h2.4v1.9h-2.4z M548.1 627.5h2.4v1.9h-2.4z M560.8 622.6h2.4v1.9h-2.4z M575.8 618.2h2.4v1.9h-2.4z M592.9 614.3h2.4v1.9h-2.4z M611.8 611.0h2.4v1.9h-2.4z M632.2 608.4h2.4v1.9h-2.4z M653.8 606.5h2.4v1.9h-2.4z M676.1 605.4h2.4v1.9h-2.4z M698.8 605.0h2.4v1.9h-2.4z M721.5 605.4h2.4v1.9h-2.4z M743.8 606.5h2.4v1.9h-2.4z M765.4 608.4h2.4v1.9h-2.4z M785.8 611.0h2.4v1.9h-2.4z M804.7 614.3h2.4v1.9h-2.4z M821.8 618.2h2.4v1.9h-2.4z M836.8 622.6h2.4v1.9h-2.4z M849.5 627.5h2.4v1.9h-2.4z M859.6 632.8h2.4v1.9h-2.4z M866.9 638.4h2.4v1.9h-2.4z M871.3 644.1h2.4v1.9h-2.4z M872.8 650.0h2.4v1.9h-2.4z M871.3 655.9h2.4v1.9h-2.4z M866.9 661.7h2.4v1.9h-2.4z M859.6 667.2h2.4v1.9h-2.4z" fill="#e81010"/>
<line x1="700" y1="650.4" x2="722.4" y2="653.4" stroke="#e00000" stroke-width="1.6"/>
<path d="M722.4 653.4L717.1 655.1L717.8 650.4Z" fill="#e00000"/>
<line x1="700" y1="650.4" x2="686.8" y2="655.9" stroke="#22dd22" stroke-width="1.6"/>
<path d="M686.8 655.9L689.2 652.5L690.9 656.6Z" fill="#22dd22"/>
<line x1="700" y1="650.4" x2="700" y2="675.4" stroke="#101080" stroke-width="1.6"/>
<path d="M700.0 675.4L697.6 670.4L702.4 670.4Z" fill="#101080"/>
<circle cx="700" cy="650.4" r="1.6" fill="#e8e820"/>
<text x="726" y="657" font-size="6.5" fill="#f06060">X</text>
<text x="681" y="659" font-size="6.5" fill="#d8d830">Y</text>
<text x="697.5" y="684" font-size="6.5" fill="#303090">Z</text>
<line x1="469.2" y1="740" x2="492.2" y2="743.3" stroke="#e00000" stroke-width="1.6"/>
<path d="M492.2 743.3L486.9 745.0L487.6 740.2Z" fill="#e00000"/>
<line x1="469.2" y1="740" x2="456.4" y2="745.8" stroke="#22dd22" stroke-width="1.6"/>
<path d="M456.4 745.8L458.7 742.4L460.5 746.4Z" fill="#22dd22"/>
<line x1="469.2" y1="740" x2="469.2" y2="765.6" stroke="#101080" stroke-width="1.6"/>
<path d="M469.2 765.6L466.8 760.6L471.6 760.6Z" fill="#101080"/>
<circle cx="469.2" cy="740" r="1.6" fill="#e8e820"/>
<text x="495.8" y="745.8" font-size="6.5" fill="#f06060">X</text>
<text x="449.8" y="749.8" font-size="6.5" fill="#d8d830">Y</text>
<text x="467" y="774.3" font-size="6.5" fill="#303090">Z</text></g>
<line x1="430" y1="797.5" x2="876.5" y2="797.5" stroke="#222" stroke-width="1"/>
<line x1="430.5" y1="797" x2="430.5" y2="806.5" stroke="#444" stroke-width="1"/>
<line x1="513.7" y1="797" x2="513.7" y2="806.5" stroke="#444" stroke-width="1"/>
<line x1="785.8" y1="797" x2="785.8" y2="806.5" stroke="#444" stroke-width="1"/>
<line x1="876.5" y1="797" x2="876.5" y2="806.5" stroke="#444" stroke-width="1"/>
<rect x="786.3" y="798" width="89.7" height="8.5" fill="#f4f9fd"/>
<text x="472.5" y="803.7" font-size="5" font-weight="bold" fill="#111" text-anchor="middle" textLength="40.7" lengthAdjust="spacingAndGlyphs">www.dlubal.com</text>
<rect x="514.3" y="798" width="3.6" height="4" fill="#e2a126"/>
<rect x="518" y="798" width="3.6" height="4" fill="#eef7fd"/>
<rect x="514.3" y="802.3" width="7.3" height="4" fill="#eef7fd"/>
<text x="528.3" y="803.7" font-size="5" font-weight="bold" fill="#111" text-anchor="start" textLength="37" lengthAdjust="spacingAndGlyphs">RSTAB 9.05.0003</text>
<text x="566" y="803.7" font-size="5" font-weight="normal" fill="#111" text-anchor="start" textLength="56.3" lengthAdjust="spacingAndGlyphs">- Space frame structures</text>
<ellipse cx="888.4" cy="802.1" rx="8.9" ry="8.9" fill="#1c2f7e"/>
<rect x="882.25" y="797.46" width="11.48" height="3.61" fill="#fff"/>
<rect x="882.25" y="801.76" width="11.48" height="1.59" fill="#fff"/>
<text x="882.25" y="806.96" font-size="3.7" font-weight="bold" fill="#fff" text-anchor="start" textLength="11.48" lengthAdjust="spacingAndGlyphs">Dlubal</text></svg></div>
<div class="a" style="left:923px;top:71px;width:15px;height:756px;background:#f0f0f0"></div>
<div class="a" style="left:923px;top:88px;width:15px;height:18px;background:#cdcdcd"></div>
<svg class="a" style="left:923px;top:71px" width="15" height="756" viewBox="923 71 15 756"><path d="M927.2 82.4L930.5 78.6L933.8 82.4" fill="none" stroke="#606060" stroke-width="1.6"/><path d="M927.2 816.8L930.5 820.6L933.8 816.8" fill="none" stroke="#606060" stroke-width="1.6"/></svg>
<div class="a" style="left:393px;top:819px;width:529px;height:8px;background:#bdbdbd"></div>
<div class="btn" style="left:404px;width:73px">Preferences</div>
<div class="btn" style="left:487px;width:73px">Print</div>
<div class="btn" style="left:570px;width:97px">Set Printer Margins</div>
<div class="btn" style="left:775px;width:81px">Cancel</div>
<div class="btn" style="left:866px;width:81px">Apply</div>
<div class="btn" style="left:684px;width:81px;border:2px solid #0078d7;line-height:17px">OK</div>
<div class="ib" style="left:10px"></div>
<div class="ib" style="left:45px"></div>
<div class="ib" style="left:73px"></div>
<div class="ib" style="left:108px"></div>
<svg class="a" style="left:0;top:840px" width="140" height="40" viewBox="0 840 140 40">
<circle cx="23" cy="861.7" r="5.8" fill="#5e5e5e"/>
<path d="M17.6 864 L15 869.8 L21.5 866.8Z" fill="#5e5e5e"/>
<path d="M20.9 860.2 Q20.9 858 23 858 Q25.2 858 25.2 860 Q25.2 861.3 23.8 862 Q23 862.4 23 863.6" fill="none" stroke="#fff" stroke-width="1.5"/>
<rect x="22.2" y="864.6" width="1.6" height="1.6" fill="#fff"/>
<path d="M50.5 859.5 L53 857.8 H59.6 V866.5 L57 869.2 H48.8 V861.2Z" fill="#155c27"/>
<path d="M49.6 861.5 H56.6 V868.4 H49.6Z" fill="#27903f"/>
<path d="M51 858.9 L53.3 857.8 H59 L56.6 859.8 H50.6Z" fill="#3cbf5a"/>
<path d="M51.5 862.5 h3 v1.5 h-3z M50.5 865.5 h2 v2 h-2z M54 865 h2 v2.5 h-2z" fill="#a8f0b0"/>
<path d="M61.2 859.8 L64.5 862.8 L61.2 865.8Z" fill="#5e5e5e"/>
<path d="M76.9 859 H86.5 L88.9 861.4 V870.7 H76.9Z" fill="#5e5e5e"/>
<path d="M79 860.5 H85.5 V864 H79Z" fill="#cde4f7"/>
<path d="M80 861.8 H84.5" stroke="#5e5e5e" stroke-width="0.9"/>
<path d="M80.3 866.5 H85.5 V870.7 H80.3Z" fill="#cde4f7"/>
<path d="M81.5 867.3 H83 V870.7 H81.5Z" fill="#5e5e5e"/>
<path d="M85.5 856.5 L87 855.2 H92.7 V861.5 L91.2 863 H84.8 V857Z" fill="#1f7a33"/>
<path d="M85.5 857.3 H91.3 V862.3 H85.5Z" fill="#2fa84a"/>
<path d="M86.5 859 h2.5v1.3h-2.5z M89 857.8 h1.3v1.5h-1.3z" fill="#a8f0b0"/>
<ellipse cx="115.5" cy="856.4" rx="3.5" ry="1.3" fill="#5e5e5e"/>
<path d="M112.5 856.5V863M118.5 856.5V863" stroke="#5e5e5e" stroke-width="1"/>
<path d="M112 858.6Q115.5 860.4 119 858.6M112 860.8Q115.5 862.6 119 860.8M112 863Q115.5 864.8 119 863" fill="none" stroke="#5e5e5e" stroke-width="1.1"/>
<path d="M113.3 864.6Q113.5 869 117.2 869" fill="none" stroke="#5e5e5e" stroke-width="1.1"/>
<path d="M117 866.9L119.4 869L117 871.1Z" fill="#5e5e5e"/>
<path d="M120.5 860.5H125.2L127.5 862.8V870.5H120.5Z" fill="#fff" stroke="#5e5e5e" stroke-width="1"/>
<path d="M122 864.5H126M122 866.5H126M122 868.5H126" stroke="#5e5e5e" stroke-width="0.9"/>
</svg>
</body></html>
